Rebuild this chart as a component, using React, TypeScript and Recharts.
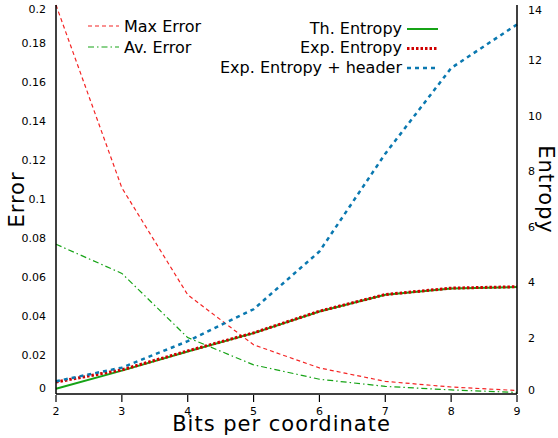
import React from 'react';
import { LineChart, Line, XAxis, YAxis } from 'recharts';

// bits per coordinate on the x axis
const bits = [2, 3, 4, 5, 6, 7, 8, 9];
// left axis (error)
const maxError = [0.2, 0.106, 0.051, 0.0253, 0.0134, 0.0065, 0.0036, 0.0018];
const avError = [0.077, 0.062, 0.029, 0.015, 0.0076, 0.0039, 0.0021, 0.0008];
// right axis (entropy)
const thEntropy = [0.19, 0.84, 1.53, 2.19, 2.97, 3.57, 3.8, 3.85];
const expEntropy = [0.43, 0.87, 1.55, 2.2, 2.98, 3.58, 3.81, 3.86];
const headerEntropy = [0.46, 0.95, 1.9, 3.05, 5.13, 8.65, 11.73, 13.3];

const errorTicks = [0, 0.02, 0.04, 0.06, 0.08, 0.1, 0.12, 0.14, 0.16, 0.18, 0.2];
const entropyTicks = [0, 2, 4, 6, 8, 10, 12, 14];

const data = bits.map((b, i) => ({
  bits: b,
  maxError: maxError[i],
  avError: avError[i],
  thEntropy: thEntropy[i],
  expEntropy: expEntropy[i],
  headerEntropy: headerEntropy[i],
}));

const FONT = 'DejaVu Sans';
const RED = '#f42424';
const DARKRED = '#d00000';
const GREEN = '#16a316';
const BLUE = '#0a78b0';

const fmt = (v: number) => String(Number(v.toFixed(2)));

// gnuplot-like clipping of labels at the ends of the axis
const LeftTick = (props: any) => {
  const { x, y, payload } = props;
  const yy = Math.min(Math.max(y, 9), 388);
  return (
    <text x={x - 2} y={yy} textAnchor="end" dominantBaseline="central" fontSize={11} fontFamily={FONT} fill="#000">
      {fmt(payload.value)}
    </text>
  );
};

const RightTick = (props: any) => {
  const { x, y, payload } = props;
  const yy = Math.min(Math.max(y, 10), 390);
  return (
    <text x={x + 3} y={yy} textAnchor="start" dominantBaseline="central" fontSize={11} fontFamily={FONT} fill="#000">
      {payload.value}
    </text>
  );
};

const BottomTick = (props: any) => {
  const { x, y, payload } = props;
  return (
    <g>
      <line x1={x} x2={x} y1={y} y2={y - 7} stroke="#000" strokeWidth={1.2} />
      <text x={x} y={y + 12.5} textAnchor="middle" fontSize={11} fontFamily={FONT} fill="#000">
        {payload.value}
      </text>
    </g>
  );
};

const TopTick = (props: any) => {
  const { x, y } = props;
  return <line x1={x} x2={x} y1={y} y2={y + 8} stroke="#000" strokeWidth={1.2} />;
};

const leftLegend = [
  { name: 'Max Error', color: RED, width: 1.2, dash: '4 3' },
  { name: 'Av. Error', color: GREEN, width: 1.2, dash: '6 3 1.5 3' },
];
const rightLegend = [
  { name: 'Th. Entropy', color: GREEN, width: 2, dash: undefined },
  { name: 'Exp. Entropy', color: DARKRED, width: 3, dash: '2.5 2' },
  { name: 'Exp. Entropy + header', color: BLUE, width: 2.5, dash: '4 4' },
];

const titleStyle = { fontSize: 21, fontFamily: FONT, letterSpacing: 1 };

export default function App() {
  return (
    <div style={{ position: 'absolute', left: 0, top: 0, width: 558, height: 438, background: '#fff' }}>
      <LineChart width={558} height={438} data={data} margin={{ top: 5, right: 0, bottom: 0, left: 0 }}>
        <XAxis
          dataKey="bits"
          type="number"
          domain={[2, 9]}
          ticks={bits}
          xAxisId="bottom"
          height={44}
          stroke="#000"
          strokeWidth={1.5}
          tickLine={false}
          tick={<BottomTick />}
          label={(p: any) => {
            const vb = p.viewBox;
            return (
              <text x={vb.x + vb.width / 2 - 5} y={431} textAnchor="middle" style={titleStyle} fill="#000">
                Bits per coordinate
              </text>
            );
          }}
        />
        <XAxis
          dataKey="bits"
          type="number"
          domain={[2, 9]}
          ticks={bits}
          xAxisId="top"
          orientation="top"
          height={0}
          stroke="#000"
          strokeWidth={1.5}
          tickLine={false}
          tick={<TopTick />}
        />
        <YAxis
          yAxisId="err"
          domain={[0, 0.2]}
          ticks={errorTicks}
          width={56}
          stroke="#000"
          strokeWidth={1.5}
          tickLine={false}
          tick={<LeftTick />}
          label={(p: any) => {
            const vb = p.viewBox;
            const cy = vb.y + vb.height / 2;
            return (
              <text x={17} y={cy} transform={`rotate(-90 17 ${cy})`} textAnchor="middle" dominantBaseline="central" style={titleStyle} fill="#000">
                Error
              </text>
            );
          }}
        />
        <YAxis
          yAxisId="ent"
          orientation="right"
          domain={[0, 14]}
          ticks={entropyTicks}
          width={41}
          stroke="#000"
          strokeWidth={1.5}
          tickLine={false}
          tick={<RightTick />}
          label={(p: any) => {
            const vb = p.viewBox;
            const cy = vb.y + vb.height / 2 - 10;
            return (
              <text x={546} y={cy} transform={`rotate(90 546 ${cy})`} textAnchor="middle" dominantBaseline="central" style={titleStyle} fill="#000">
                Entropy
              </text>
            );
          }}
        />
        <Line xAxisId="bottom" yAxisId="err" dataKey="maxError" name="Max Error" stroke={RED} strokeWidth={1.2} strokeDasharray="4 3" dot={false} isAnimationActive={false} />
        <Line xAxisId="bottom" yAxisId="err" dataKey="avError" name="Av. Error" stroke={GREEN} strokeWidth={1.2} strokeDasharray="6 3 1.5 3" dot={false} isAnimationActive={false} />
        <Line xAxisId="bottom" yAxisId="ent" dataKey="thEntropy" name="Th. Entropy" stroke={GREEN} strokeWidth={2} dot={false} isAnimationActive={false} />
        <Line xAxisId="bottom" yAxisId="ent" dataKey="expEntropy" name="Exp. Entropy" stroke={DARKRED} strokeWidth={3} strokeDasharray="2.5 2" dot={false} isAnimationActive={false} />
        <Line xAxisId="bottom" yAxisId="ent" dataKey="headerEntropy" name="Exp. Entropy + header" stroke={BLUE} strokeWidth={2.5} strokeDasharray="4 4" dot={false} isAnimationActive={false} />
      </LineChart>
      <svg width={558} height={438} style={{ position: 'absolute', left: 0, top: 0, pointerEvents: 'none' }}>
        {leftLegend.map((s, i) => (
          <g key={s.name}>
            <line x1={88} x2={119} y1={26 + i * 21} y2={26 + i * 21} stroke={s.color} strokeWidth={s.width} strokeDasharray={s.dash} />
            <text x={124} y={26 + i * 21} dominantBaseline="central" fontSize={16} fontFamily={FONT} fill="#000">
              {s.name}
            </text>
          </g>
        ))}
        {rightLegend.map((s, i) => (
          <g key={s.name}>
            <line x1={407} x2={438} y1={29 + i * 19.5} y2={29 + i * 19.5} stroke={s.color} strokeWidth={s.width} strokeDasharray={s.dash} />
            <text x={402} y={28 + i * 19.5} textAnchor="end" dominantBaseline="central" fontSize={16} fontFamily={FONT} fill="#000">
              {s.name}
            </text>
          </g>
        ))}
      </svg>
    </div>
  );
}
